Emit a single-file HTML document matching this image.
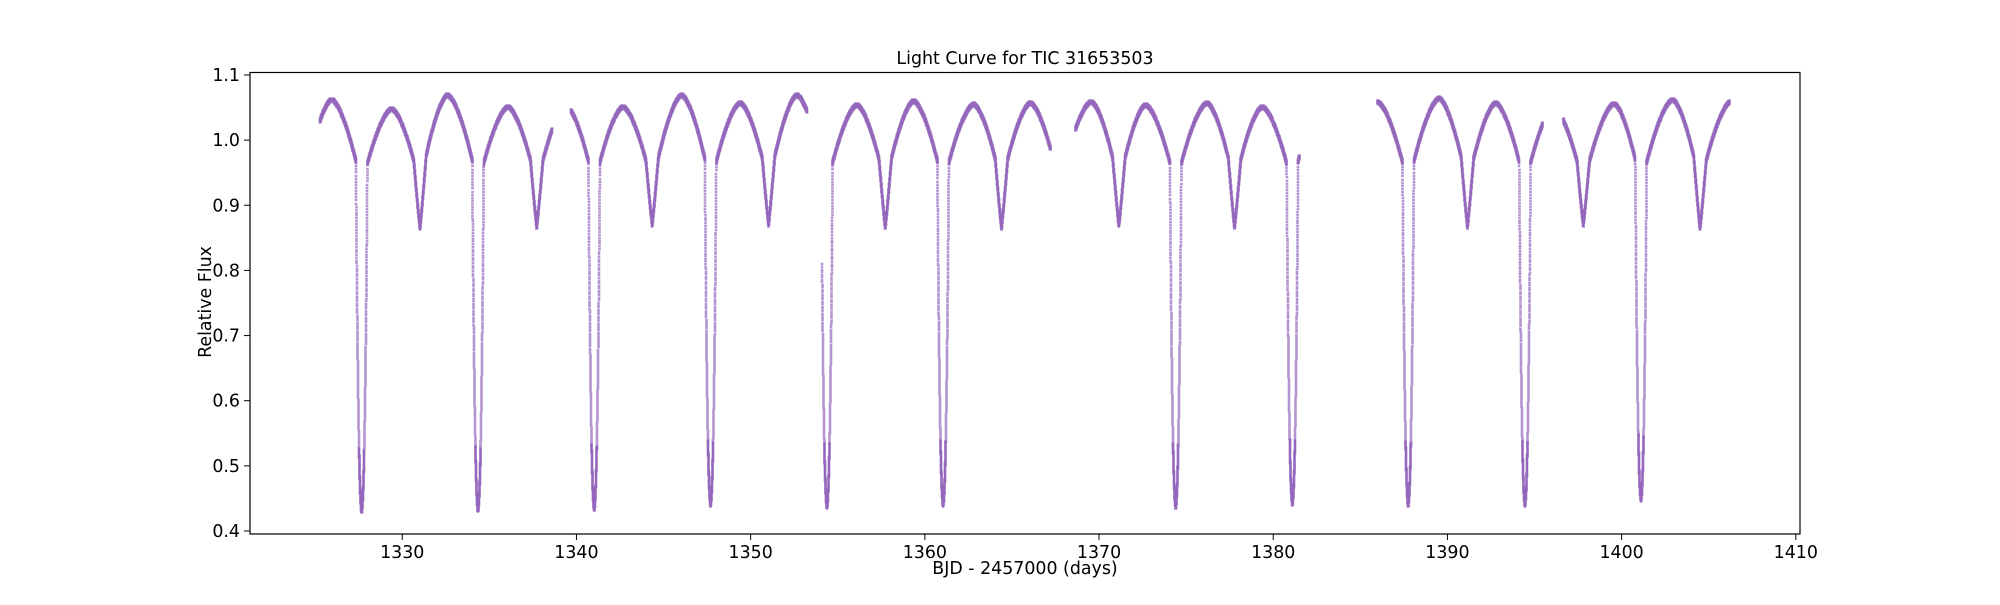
<!DOCTYPE html>
<html><head><meta charset="utf-8"><title>Light Curve for TIC 31653503</title>
<style>
html,body{margin:0;padding:0;background:#fff;}
svg text{font-family:"DejaVu Sans","Liberation Sans",sans-serif;fill:#000;}
</style></head>
<body>
<svg id="chart" width="2000" height="600" viewBox="0 0 2000 600" xmlns="http://www.w3.org/2000/svg">
<rect width="2000" height="600" fill="#fff"/>
<text x="1025" y="64" font-size="17.4" text-anchor="middle">Light Curve for TIC 31653503</text>
<g id="points"></g>
<g id="axes"></g>
<text x="1025" y="574" font-size="17.4" text-anchor="middle">BJD - 2457000 (days)</text>
<text x="0" y="0" font-size="17.4" text-anchor="middle" transform="translate(211,302) rotate(-90)">Relative Flux</text>
</svg>
<script>
// ---- data ----
const segmentStarts = [1325.27, 1339.69, 1354.10, 1368.65, 1386.00, 1396.65];
const segmentEnds   = [1338.61, 1353.23, 1367.20, 1381.50, 1395.47, 1406.20];
const primaryTimes  = [1327.67, 1334.35, 1341.02, 1347.70, 1354.38, 1361.05, 1367.73, 1374.40, 1381.10, 1387.75, 1394.45, 1401.11, 1407.78];
const primaryMin    = [0.430, 0.432, 0.434, 0.440, 0.437, 0.440, 0.44, 0.437, 0.442, 0.440, 0.440, 0.448, 0.44];
const secondaryTimes= [1324.33, 1331.02, 1337.72, 1344.35, 1351.03, 1357.73, 1364.40, 1371.14, 1377.78, 1384.45, 1391.15, 1397.80, 1404.50];
const secondaryMin  = [0.865, 0.865, 0.867, 0.870, 0.870, 0.866, 0.865, 0.869, 0.866, 0.865, 0.867, 0.870, 0.865];
const peakTimes = [1325.95, 1329.39, 1332.60, 1336.07, 1339.40, 1342.67, 1346.04, 1349.40, 1352.66, 1356.10, 1359.36, 1362.80, 1366.06, 1369.55, 1372.67, 1376.20, 1379.37, 1382.70, 1386.00, 1389.52, 1392.77, 1396.10, 1399.57, 1402.93, 1406.30];
const peakFlux  = [1.062, 1.048, 1.069, 1.051, 1.053, 1.051, 1.069, 1.057, 1.069, 1.054, 1.060, 1.055, 1.057, 1.059, 1.054, 1.057, 1.051, 1.050, 1.058, 1.064, 1.057, 1.050, 1.056, 1.062, 1.060];
const xTicks = [1330, 1340, 1350, 1360, 1370, 1380, 1390, 1400, 1410];
const yTicks = [0.4, 0.5, 0.6, 0.7, 0.8, 0.9, 1.0, 1.1];
const yTickLabels = ["0.4","0.5","0.6","0.7","0.8","0.9","1.0","1.1"];

// ---- axes geometry ----
const L=250, R=1800, T=72.5, B=534;
const X0=1321.26, X1=1410.24, Y0=0.3954, Y1=1.1038;
const xs = v => L + (v - X0) / (X1 - X0) * (R - L);
const ys = v => B - (v - Y0) / (Y1 - Y0) * (B - T);
const NS='http://www.w3.org/2000/svg';

const valleys = primaryTimes.concat(secondaryTimes).sort((a,b)=>a-b);
const VBASE = 0.93;
function baseline(t){
  let vi = 0;
  for (let i=0;i<valleys.length;i++){ if (valleys[i] <= t) vi = i; }
  let pk = -1;
  for (let k=0;k<peakTimes.length;k++){ if (peakTimes[k] > valleys[vi] && (vi+1>=valleys.length || peakTimes[k] < valleys[vi+1])) { pk = k; break; } }
  if (pk < 0) return 1.0;
  const tp = peakTimes[pk], fp = peakFlux[pk];
  let tv = (t <= tp) ? valleys[vi] : valleys[vi+1];
  if (tv === undefined) tv = tp + 1.7;
  const u = Math.min(1, Math.abs(t - tv) / Math.abs(tp - tv));
  return VBASE + (fp - VBASE) * (1 - Math.pow(1 - u, 1.6));
}
function flux(t){
  let f = baseline(t);
  for (let i=0;i<primaryTimes.length;i++){
    const x = Math.abs(t - primaryTimes[i]) / 0.33;
    if (x < 1){ const D = VBASE - primaryMin[i]; f -= D * (1 - Math.pow(x, 2.3)); }
  }
  for (let i=0;i<secondaryTimes.length;i++){
    const x = Math.abs(t - secondaryTimes[i]) / 0.36;
    if (x < 1){ const D = VBASE - secondaryMin[i]; f -= D * (1 - Math.pow(x, 1.2)); }
  }
  return f;
}

// ---- scatter points ----
const seen = new Set();
let dDense = '', dSparse = '';
const cad = 2/1440;
for (let s=0;s<segmentStarts.length;s++){
  for (let t=segmentStarts[s]; t<=segmentEnds[s]; t+=cad){
    const f = flux(t);
    const px = Math.round(xs(t)*2)/2, py = Math.round(ys(f));
    const key = px*10000+py;
    if (seen.has(key)) continue;
    seen.add(key);
    const slope = Math.abs(flux(t+cad) - f) * 651;
    if (slope > 1.2) dSparse += 'M'+(px-1.3)+' '+(py-1.3)+'h2.6v2.6h-2.6z';
    else dDense += 'M'+(px-1.3)+' '+(py-2.6)+'h2.6v5.2h-2.6z';
  }
}
const pts = document.getElementById('points');
const pathA = document.createElementNS(NS,'path');
pathA.setAttribute('d', dDense);
pathA.setAttribute('fill', '#9467bd');


pts.appendChild(pathA);
const pathB = document.createElementNS(NS,'path');
pathB.setAttribute('d', dSparse);
pathB.setAttribute('fill', '#9467bd');
pathB.setAttribute('fill-opacity', '0.7');


pts.appendChild(pathB);

// ---- axes ----
const ax = document.getElementById('axes');
const frame = document.createElementNS(NS,'rect');
frame.setAttribute('x', L); frame.setAttribute('y', T);
frame.setAttribute('width', R-L); frame.setAttribute('height', B-T);
frame.setAttribute('fill','none'); frame.setAttribute('stroke','#000'); frame.setAttribute('stroke-width','1.2');


ax.appendChild(frame);
xTicks.forEach(v=>{
  const x = xs(v);
  const ln = document.createElementNS(NS,'line');
  ln.setAttribute('x1',x); ln.setAttribute('x2',x); ln.setAttribute('y1',B); ln.setAttribute('y2',B+6);
  ln.setAttribute('stroke','#000'); ln.setAttribute('stroke-width','1');
  
  
  ax.appendChild(ln);
  const tx = document.createElementNS(NS,'text');
  tx.setAttribute('x',x); tx.setAttribute('y',B+24); tx.setAttribute('font-size','17.4'); tx.setAttribute('text-anchor','middle');
  tx.textContent = String(v);
  
  
  ax.appendChild(tx);
});
yTicks.forEach((v,i)=>{
  const y = ys(v);
  const ln = document.createElementNS(NS,'line');
  ln.setAttribute('x1',L-6); ln.setAttribute('x2',L); ln.setAttribute('y1',y); ln.setAttribute('y2',y);
  ln.setAttribute('stroke','#000'); ln.setAttribute('stroke-width','1');
  
  
  ax.appendChild(ln);
  const tx = document.createElementNS(NS,'text');
  tx.setAttribute('x',L-10); tx.setAttribute('y',y+6); tx.setAttribute('font-size','17.4'); tx.setAttribute('text-anchor','end');
  tx.textContent = yTickLabels[i];
  
  
  ax.appendChild(tx);
});
</script>
</body></html>
